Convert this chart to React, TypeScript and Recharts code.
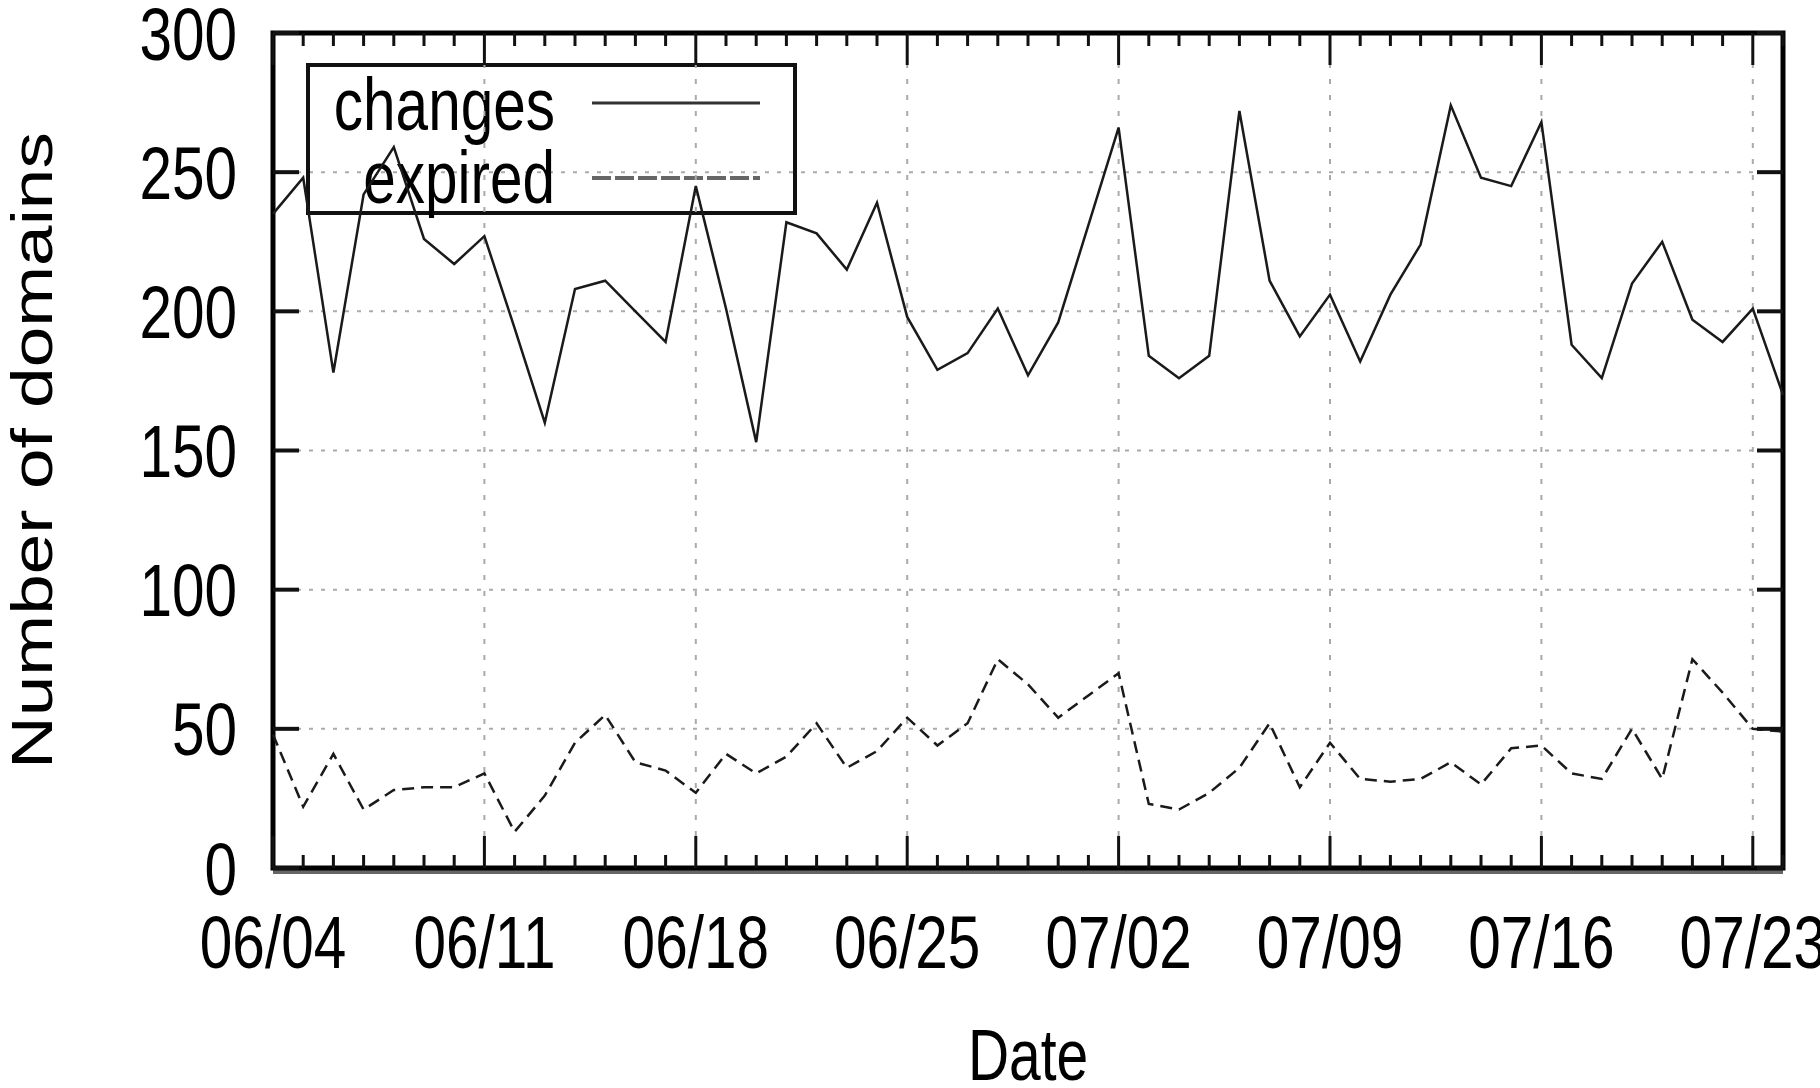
import { LineChart, Line, XAxis, YAxis, CartesianGrid, ReferenceLine, ReferenceArea, Customized } from "recharts"

// daily counts starting 06/04 (day 0) through 07/24 (day 50)
const changes = [
  235, 248, 178, 242, 259, 226, 217, 227, 194, 160,
  208, 211, 200, 189, 245, 201, 153, 232, 228, 215,
  239, 198, 179, 185, 201, 177, 196, 231, 266, 184,
  176, 184, 272, 211, 191, 206, 182, 206, 224, 274,
  248, 245, 268, 188, 176, 210, 225, 197, 189, 201,
  170,
]
const expired = [
  48, 22, 41, 21, 28, 29, 29, 34, 13, 26,
  45, 55, 38, 35, 27, 41, 34, 40, 52, 36,
  42, 54, 44, 52, 75, 66, 54, 62, 70, 23,
  21, 27, 36, 52, 29, 45, 32, 31, 32, 38,
  30, 43, 44, 34, 32, 50, 32, 75, 63, 50,
  49,
]
const majorDays = [0, 7, 14, 21, 28, 35, 42, 49]
const majorLabels = ["06/04", "06/11", "06/18", "06/25", "07/02", "07/09", "07/16", "07/23"]
const yTicks = [0, 50, 100, 150, 200, 250, 300]

const data = changes.map((c, i) => ({ day: i, changes: c, expired: expired[i] }))
const allDays = data.map(d => d.day)

const W = 1820
const H = 1088
const PLOT_LEFT = 273
const PLOT_RIGHT = 1783
const PLOT_TOP = 33
const PLOT_BOTTOM = 868
const FONT = "'Liberation Sans', Arial, Helvetica, sans-serif"
const SQUEEZE = 0.78 // the original image is squashed horizontally
const INK = "#111"

const XTick = ({ x, payload }: any) => {
  const d = payload.value
  const idx = majorDays.indexOf(d)
  const len = idx >= 0 ? 32 : 13
  return (
    <g>
      <line x1={x} x2={x} y1={PLOT_BOTTOM} y2={PLOT_BOTTOM - len} stroke={INK} strokeWidth={3} />
      <line x1={x} x2={x} y1={PLOT_TOP} y2={PLOT_TOP + len} stroke={INK} strokeWidth={3} />
      {idx >= 0 && (
        <g transform={`translate(${x},${PLOT_BOTTOM + 47}) scale(${SQUEEZE},1)`}>
          <text textAnchor="middle" dy="0.71em" fontSize={75} fontFamily={FONT} fill="#000">
            {majorLabels[idx]}
          </text>
        </g>
      )}
    </g>
  )
}

const YTick = ({ x, y, payload }: any) => (
  <g>
    <line x1={PLOT_LEFT} x2={PLOT_LEFT + 26} y1={y} y2={y} stroke={INK} strokeWidth={4} />
    <line x1={PLOT_RIGHT - 26} x2={PLOT_RIGHT} y1={y} y2={y} stroke={INK} strokeWidth={4} />
    <g transform={`translate(${x},${y}) scale(${SQUEEZE},1)`}>
      <text textAnchor="end" dy="0.355em" fontSize={75} fontFamily={FONT} fill="#000">
        {payload.value}
      </text>
    </g>
  </g>
)

// legend box + axis titles, gnuplot style
const Decorations = () => (
  <g>
    <line x1={PLOT_LEFT} x2={PLOT_RIGHT} y1={872} y2={872} stroke="#666" strokeWidth={4} />
    <rect x={308} y={65} width={487} height={148} fill="none" stroke={INK} strokeWidth={4} />
    <g transform={`translate(555,130) scale(${SQUEEZE},1)`}>
      <text textAnchor="end" fontSize={75} fontFamily={FONT} fill="#000">changes</text>
    </g>
    <line x1={592} x2={760} y1={103} y2={103} stroke="#333" strokeWidth={3} />
    <g transform={`translate(555,203) scale(${SQUEEZE},1)`}>
      <text textAnchor="end" fontSize={75} fontFamily={FONT} fill="#000">expired</text>
    </g>
    <line x1={592} x2={760} y1={178} y2={178} stroke="#666" strokeWidth={4} strokeDasharray="19 4" />
    <g transform={`translate(1028,1080) scale(${SQUEEZE},1)`}>
      <text textAnchor="middle" fontSize={73} fontFamily={FONT} fill="#000">Date</text>
    </g>
    <g transform={`translate(52,${(PLOT_TOP + PLOT_BOTTOM) / 2}) scale(${SQUEEZE},1) rotate(-90)`}>
      <text textAnchor="middle" fontSize={73} fontFamily={FONT} fill="#000">Number of domains</text>
    </g>
  </g>
)

export default function App() {
  return (
    <div style={{ position: "absolute", left: 0, top: 0, width: W, height: H, background: "#fff" }}>
      <LineChart
        width={W}
        height={H}
        data={data}
        margin={{ top: PLOT_TOP, right: W - PLOT_RIGHT, left: 0, bottom: 0 }}
      >
        <CartesianGrid vertical={false} stroke="#aaa" strokeWidth={2} strokeDasharray="4 8" />
        {majorDays.slice(1).map(d => (
          <ReferenceLine key={d} x={d} stroke="#aaa" strokeWidth={2} strokeDasharray="5 11" />
        ))}
        <XAxis
          dataKey="day"
          type="number"
          domain={[0, 50]}
          ticks={allDays}
          interval={0}
          height={H - PLOT_BOTTOM}
          axisLine={false}
          tickLine={false}
          tickSize={0}
          tickMargin={0}
          tick={<XTick />}
        />
        <YAxis
          type="number"
          domain={[0, 300]}
          ticks={yTicks}
          interval={0}
          width={PLOT_LEFT}
          axisLine={false}
          tickLine={false}
          tickSize={0}
          tickMargin={36}
          tick={<YTick />}
        />
        <Line
          type="linear"
          dataKey="changes"
          stroke="#1a1a1a"
          strokeWidth={2.5}
          dot={false}
          isAnimationActive={false}
        />
        <Line
          type="linear"
          dataKey="expired"
          stroke="#1a1a1a"
          strokeWidth={2.5}
          strokeDasharray="12 7"
          dot={false}
          isAnimationActive={false}
        />
        <ReferenceArea x1={0} x2={50} y1={0} y2={300} fill="none" stroke="#000" strokeWidth={5} ifOverflow="visible" />
        <Customized component={Decorations} />
      </LineChart>
    </div>
  )
}
